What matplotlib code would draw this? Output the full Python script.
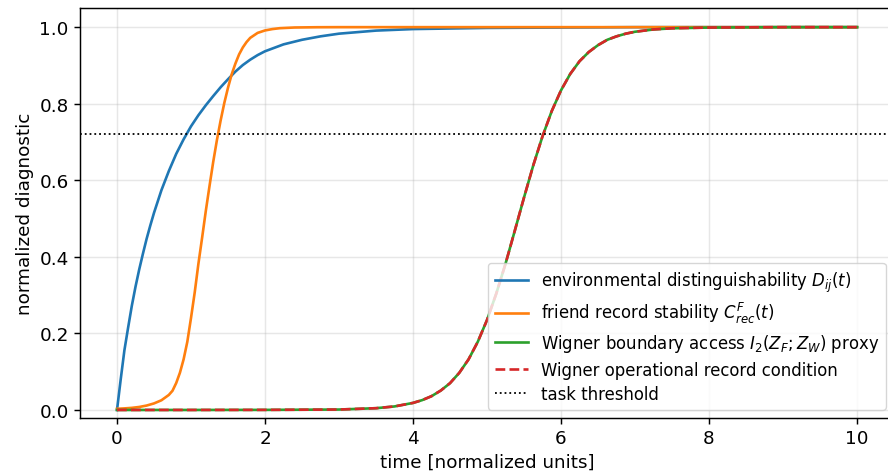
import matplotlib
matplotlib.use("Agg")
import matplotlib.pyplot as plt

# values
t_env = [0.0, 0.05, 0.1, 0.15, 0.2, 0.25, 0.3, 0.35, 0.4, 0.45, 0.5, 0.6, 0.7, 0.8, 0.9,
         1.0, 1.1, 1.2, 1.3, 1.4, 1.5, 1.6, 1.7, 1.8, 1.9, 2.0, 2.25, 2.5, 2.75, 3.0,
         3.5, 4.0, 5.0, 6.0, 7.0, 10.0]
env_dist = [0.0, 0.08, 0.156, 0.215, 0.272, 0.322, 0.367, 0.408, 0.447, 0.482, 0.515,
            0.574, 0.624, 0.669, 0.707, 0.741, 0.770, 0.796, 0.820, 0.843, 0.864, 0.884,
            0.901, 0.915, 0.927, 0.937, 0.955, 0.967, 0.976, 0.983, 0.991, 0.995, 0.998,
            0.999, 1.0, 1.0]

t_friend = [0.0, 0.1, 0.2, 0.3, 0.4, 0.5, 0.6, 0.7, 0.75, 0.8, 0.85, 0.9, 0.95, 1.0,
            1.05, 1.1, 1.15, 1.2, 1.25, 1.3, 1.35, 1.4, 1.45, 1.5, 1.55, 1.6, 1.65, 1.7,
            1.75, 1.8, 1.9, 2.0, 2.1, 2.2, 2.4, 2.7, 3.0, 10.0]
friend_rec = [0.003, 0.0041, 0.0055, 0.0078, 0.0115, 0.0171, 0.0253, 0.0392, 0.0502,
              0.0704, 0.0971, 0.1323, 0.178, 0.2405, 0.307, 0.382, 0.450, 0.520, 0.585,
              0.648, 0.705, 0.756, 0.802, 0.842, 0.877, 0.905, 0.929, 0.947, 0.961,
              0.972, 0.985, 0.9914, 0.995, 0.9973, 0.9991, 0.9998, 1.0, 1.0]

t_wig = [0.0, 1.0, 2.0, 3.0, 3.5, 3.75, 4.0, 4.125, 4.25, 4.375, 4.5, 4.625, 4.75, 4.875,
         5.0, 5.125, 5.25, 5.375, 5.5, 5.625, 5.75, 5.875, 6.0, 6.125, 6.25, 6.375, 6.5,
         6.625, 6.75, 6.875, 7.0, 7.25, 7.5, 8.0, 9.0, 10.0]
wig_access = [0.0, 0.0, 0.0002, 0.0011, 0.0046, 0.0092, 0.0184, 0.0258, 0.036, 0.0507,
              0.070, 0.097, 0.132, 0.178, 0.235, 0.304, 0.382, 0.468, 0.555, 0.639, 0.715,
              0.781, 0.835, 0.878, 0.911, 0.935, 0.953, 0.967, 0.976, 0.983, 0.988, 0.994,
              0.997, 0.999, 1.0, 1.0]
wig_record = list(wig_access)

threshold = 0.72

plt.rcParams.update({
    "axes.linewidth": 1.05,
    "xtick.major.size": 4.6,
    "ytick.major.size": 4.6,
    "xtick.major.width": 1.05,
    "ytick.major.width": 1.05,
})

fig = plt.figure(figsize=(8.88, 4.77), dpi=100)
ax = fig.add_axes([0.0901, 0.1216, 0.9167, 0.8595])

ax.plot(t_env, env_dist, color="#1f77b4", lw=1.9,
        label=r"environmental distinguishability $D_{ij}(t)$")
ax.plot(t_friend, friend_rec, color="#ff7f0e", lw=1.9,
        label=r"friend record stability $C^{F}_{rec}(t)$")
ax.plot(t_wig, wig_access, color="#2ca02c", lw=1.9,
        label=r"Wigner boundary access $I_2(Z_F;Z_W)$ proxy")
ax.plot(t_wig, wig_record, color="#d62728", lw=1.9, ls="--",
        label="Wigner operational record condition")
ax.axhline(threshold, color="black", lw=1.3, ls=":", label="task threshold")

ax.set_xlim(-0.5, 10.5)
ax.set_ylim(-0.021, 1.05)
ax.set_xlabel("time [normalized units]", fontsize=13.2)
ax.set_ylabel("normalized diagnostic", fontsize=13.2)
ax.tick_params(labelsize=13.2)
ax.grid(True, alpha=0.3, lw=1.05)
ax.legend(loc="lower right", fontsize=11.9, labelspacing=0.4)

fig.savefig("out.png", dpi=100)
